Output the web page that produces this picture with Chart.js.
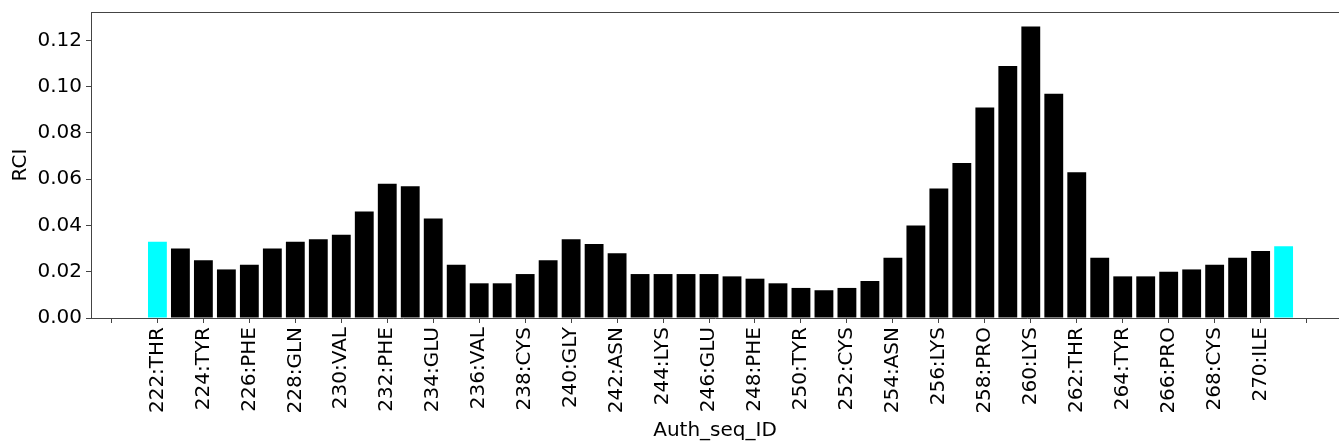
<!DOCTYPE html>
<html>
<head>
<meta charset="utf-8">
<script src="https://cdn.jsdelivr.net/npm/chart.js@4/dist/chart.umd.min.js"></script>
<style>
    body { margin: 0; background: #fff; }
    #wrap { width: 1339px; height: 447px; }
</style>
</head>
<body>
<div id="wrap"><canvas id="rciChart" width="1339" height="447"></canvas></div>
<script>
// Residues and RCI values
const residues = [222, 223, 224, 225, 226, 227, 228, 229, 230, 231,
                  232, 233, 234, 235, 236, 237, 238, 239, 240, 241,
                  242, 243, 244, 245, 246, 247, 248, 249, 250, 251,
                  252, 253, 254, 255, 256, 257, 258, 259, 260, 261,
                  262, 263, 264, 265, 266, 267, 268, 269, 270, 271];
const rci = [0.033, 0.030, 0.025, 0.021, 0.023, 0.030, 0.033, 0.034, 0.036, 0.046,
             0.058, 0.057, 0.043, 0.023, 0.015, 0.015, 0.019, 0.025, 0.034, 0.032,
             0.028, 0.019, 0.019, 0.019, 0.019, 0.018, 0.017, 0.015, 0.013, 0.012,
             0.013, 0.016, 0.026, 0.040, 0.056, 0.067, 0.091, 0.109, 0.126, 0.097,
             0.063, 0.026, 0.018, 0.018, 0.020, 0.021, 0.023, 0.026, 0.029, 0.031];
// tick labels (every second residue)
const tickLabels = {
    222: '222:THR', 224: '224:TYR', 226: '226:PHE', 228: '228:GLN', 230: '230:VAL',
    232: '232:PHE', 234: '234:GLU', 236: '236:VAL', 238: '238:CYS', 240: '240:GLY',
    242: '242:ASN', 244: '244:LYS', 246: '246:GLU', 248: '248:PHE', 250: '250:TYR',
    252: '252:CYS', 254: '254:ASN', 256: '256:LYS', 258: '258:PRO', 260: '260:LYS',
    262: '262:THR', 264: '264:TYR', 266: '266:PRO', 268: '268:CYS', 270: '270:ILE'
};
const yTicks = [0, 0.02, 0.04, 0.06, 0.08, 0.10, 0.12];
const highlighted = [222, 271];

const spine = '#444';
const font = { family: 'DejaVu Sans', size: 20 };

// matplotlib-style top border
const topSpine = {
    id: 'topSpine',
    afterDraw(chart) {
        const { ctx, chartArea } = chart;
        ctx.save();
        ctx.strokeStyle = spine;
        ctx.lineWidth = 1;
        ctx.beginPath();
        ctx.moveTo(chartArea.left, chartArea.top + 0.5);
        ctx.lineTo(chartArea.right, chartArea.top + 0.5);
        ctx.stroke();
        ctx.restore();
    }
};

const ctx = document.getElementById('rciChart').getContext('2d');
new Chart(ctx, {
    type: 'bar',
    data: {
        datasets: [{
            label: 'RCI',
            data: residues.map((r, i) => ({ x: r, y: rci[i] })),
            backgroundColor: c => highlighted.includes(residues[c.dataIndex]) ? '#00ffff' : '#000000',
            borderWidth: 0,
            categoryPercentage: 0.82,
            barPercentage: 1.0
        }]
    },
    plugins: [topSpine],
    options: {
        responsive: false,
        animation: false,
        layout: { padding: { top: 12, left: 0, right: 0, bottom: 0 } },
        plugins: {
            legend: { display: false },
            tooltip: { enabled: false }
        },
        scales: {
            x: {
                type: 'linear',
                offset: false,
                min: 219.11,
                max: 273.41,
                afterFit: s => { s.height = 129; s.paddingLeft = 0; s.paddingRight = 0; },
                border: { color: spine, width: 1 },
                grid: { drawOnChartArea: false, offset: false, tickLength: 5, tickColor: spine },
                ticks: {
                    stepSize: 2,
                    includeBounds: false,
                    autoSkip: false,
                    maxRotation: 90,
                    minRotation: 90,
                    padding: 4,
                    color: '#000',
                    font: font,
                    callback: v => tickLabels[v] || ''
                },
                title: { display: true, text: 'Auth_seq_ID', color: '#000', font: font, padding: 4 }
            },
            y: {
                min: 0,
                max: 0.1323,
                afterFit: s => { s.width = 91; s.paddingTop = 0; s.paddingBottom = 0; },
                afterBuildTicks: s => { s.ticks = yTicks.map(v => ({ value: v })); },
                border: { color: spine, width: 1 },
                grid: { drawOnChartArea: false, tickLength: 5, tickColor: spine },
                ticks: {
                    padding: 4,
                    color: '#000',
                    font: font,
                    callback: v => v.toFixed(2)
                },
                title: { display: true, text: 'RCI', color: '#000', font: font, padding: { top: 9, bottom: 0 } }
            }
        }
    }
});
</script>
</body>
</html>
